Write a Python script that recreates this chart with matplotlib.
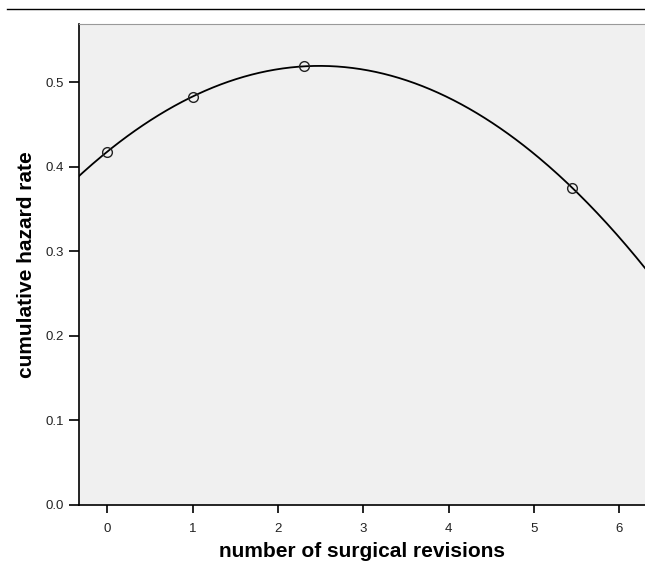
import numpy as np
import matplotlib.pyplot as plt
from matplotlib.lines import Line2D

plt.rcParams['font.family'] = ['Liberation Sans', 'DejaVu Sans']

# observed points
revisions = [0, 1, 2.3, 5.45]
hazard = [0.418, 0.483, 0.519, 0.375]

x_ticks = [0, 1, 2, 3, 4, 5, 6]
y_ticks = [0.0, 0.1, 0.2, 0.3, 0.4, 0.5]

fig = plt.figure(figsize=(6.45, 5.65), dpi=100)
ax = fig.add_axes([0.1225, 0.1062, 0.8775, 0.8513])
ax.set_facecolor('#f0f0f0')

# quadratic fit line through the points
coef = np.polyfit(revisions, hazard, 2)
xs = np.linspace(-0.4, 6.4, 300)
ax.plot(xs, np.polyval(coef, xs), color='black', lw=1.3)
ax.plot(revisions, hazard, 'o', mfc='none', mec='#222222', ms=7, mew=1.0)

ax.set_xlim(-0.33, 6.3)
ax.set_ylim(0, 0.569)
ax.set_xticks(x_ticks)
ax.set_yticks(y_ticks)
ax.set_yticklabels(['%.1f' % v for v in y_ticks])
ax.tick_params(axis='x', direction='out', length=6, width=1.2, pad=7, labelsize=9.5,
               labelcolor='#222222')
ax.tick_params(axis='y', direction='out', length=7, width=1.2, pad=4, labelsize=9.5,
               labelcolor='#222222')

for s in ['left', 'bottom']:
    ax.spines[s].set_color('black')
    ax.spines[s].set_linewidth(1.2)
ax.spines['top'].set_color('#999999')
ax.spines['top'].set_linewidth(0.8)
ax.spines['right'].set_visible(False)

ax.set_xlabel('number of surgical revisions', fontsize=15, fontweight='bold', labelpad=5)
ax.set_ylabel('cumulative hazard rate', fontsize=15, fontweight='bold', labelpad=7)

# rule at the top of the page
fig.add_artist(Line2D([0.011, 1.0], [1 - 9 / 565, 1 - 9 / 565], color='black', lw=1.0,
                      transform=fig.transFigure))

fig.savefig('out.png', dpi=100)
